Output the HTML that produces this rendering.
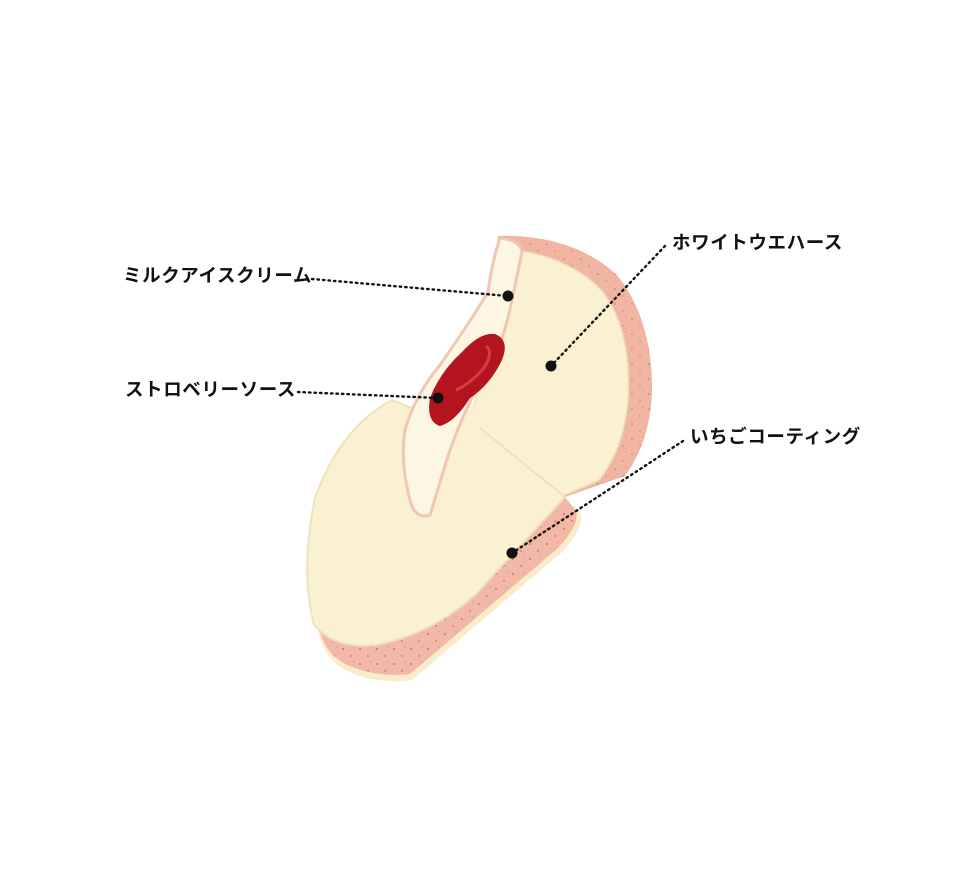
<!DOCTYPE html>
<html><head><meta charset="utf-8"><style>
html,body{margin:0;padding:0;background:#fff;}
body{width:964px;height:887px;position:relative;overflow:hidden;}
svg{position:absolute;left:0;top:0;}
.l{position:absolute;font-family:"Liberation Sans","Noto Sans CJK JP",sans-serif;font-weight:bold;font-size:18.5px;color:#111;white-space:nowrap;line-height:1;letter-spacing:0.6px}
</style></head><body>
<svg width="964" height="887" viewBox="0 0 964 887">
<defs>
<pattern id="sp" width="17" height="15" patternUnits="userSpaceOnUse"><circle cx="3" cy="4" r="0.9" fill="#d4574f"/><circle cx="11" cy="11" r="0.7" fill="#c94a45"/><circle cx="14" cy="2" r="0.5" fill="#d4574f"/></pattern>
</defs>
<path d="M317,605 Q314,652 345,670 Q375,685 412,680 L562,552 Q586,526 580,512 L565,497 L470,600 Q420,640 370,645 Q330,645 317,605 Z" fill="#f9ecc8"/>
<path d="M317,605 Q316,648 345,664 Q375,678 410,674 L558,548 Q580,524 576,512 L565,497 L470,600 Q420,640 370,645 Q330,645 317,605 Z" fill="#f2b8a8"/>
<path d="M317,605 Q316,648 345,664 Q375,678 410,674 L558,548 Q580,524 576,512 L565,497 L470,600 Q420,640 370,645 Q330,645 317,605 Z" fill="url(#sp)"/>
<path d="M498,236 Q572,234 617,275 Q653,320 652,392 Q650,442 625,476 L565,497 L460,505 Z" fill="#f0b5a3"/>
<path d="M498,236 Q572,234 617,275 Q653,320 652,392 Q650,442 625,476 L565,497 L460,505 Z" fill="url(#sp)" opacity="0.6"/>
<path d="M515,250 Q572,258 603,292 Q632,332 628,400 Q623,452 598,481 L560,497 L460,505 L470,420 Z" fill="#faf1d3" stroke="#eee0b5" stroke-width="1.5"/>
<path d="M392,400 Q340,428 315,498 Q300,570 314,625 Q336,650 376,645 Q432,634 476,594 L565,497 L470,420 L440,420 Z" fill="#faf1d3" stroke="#efe2b8" stroke-width="2"/>
<path d="M470,400 L480,420 L470,505 L440,505 Z" fill="#faf1d3"/>
<path d="M500,238 Q520,240 522,252 L512,300 Q506,330 496,355 L480,382 Q460,420 448,456 L430,515 Q415,520 410,500 Q400,462 405,430 Q415,395 440,365 Q470,322 488,292 Q492,262 500,238 Z" fill="#fcf6e2" stroke="#f0c6b6" stroke-width="3"/>
<path d="M495,334 Q510,340 502,360 Q490,385 470,398 Q455,422 440,426 Q426,422 430,398 Q440,372 462,352 Q480,332 495,334 Z" fill="#b3141e"/>
<path d="M486,346 Q494,352 484,368 Q470,384 456,390" stroke="#d23d45" stroke-width="3" fill="none"/>
<g stroke="#111" stroke-width="2.4" stroke-dasharray="1.5 4" stroke-linecap="round" fill="none">
<line x1="312" y1="279" x2="508" y2="296"/>
<line x1="298" y1="392" x2="438" y2="398"/>
<line x1="665" y1="246" x2="551" y2="366"/>
<line x1="683" y1="441" x2="512" y2="553"/>
</g>
<g fill="#111">
<circle cx="508" cy="296" r="5.5"/>
<circle cx="438" cy="398" r="5.5"/>
<circle cx="551" cy="366" r="5.5"/>
<circle cx="512" cy="553" r="5.5"/>
</g>
</svg>
<div class="l" style="left:123px;top:267px">ミルクアイスクリーム</div>
<div class="l" style="left:125px;top:381px">ストロベリーソース</div>
<div class="l" style="left:672px;top:234px">ホワイトウエハース</div>
<div class="l" style="left:690px;top:428px">いちごコーティング</div>
</body></html>
